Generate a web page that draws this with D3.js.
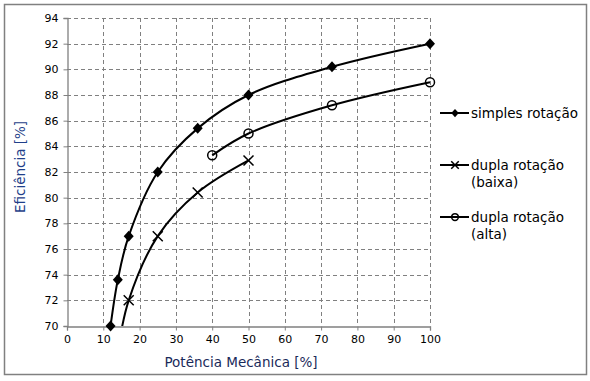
<!DOCTYPE html>
<html><head><meta charset="utf-8">
<script src="https://cdn.jsdelivr.net/npm/d3@7"></script>
<style>body{margin:0;background:#fff}svg{display:block}text{font-family:"DejaVu Sans",Verdana,sans-serif}</style>
</head><body><svg id="c" width="590" height="381"></svg>
<script>
const xTicks = [0,10,20,30,40,50,60,70,80,90,100];
const yTicks = [70,72,74,76,78,80,82,84,86,88,90,92,94];
const simplesX = [12,14,17,25,36,50,73,100];
const simplesY = [70,73.6,77,82,85.4,88,90.2,92];
const baixaX = [14,17,25,36,50];
const baixaY = [68,72,77,80.4,82.9];
const altaX = [40,50,73,100];
const altaY = [83.3,85,87.2,89];
const seriesNames = ["simples rotação", ["dupla rotação","(baixa)"], ["dupla rotação","(alta)"]];

const svg = d3.select("#c");
svg.append("rect").attr("x",4.5).attr("y",4.5).attr("width",582).attr("height",370)
  .attr("fill","#fff").attr("stroke","#808080").attr("stroke-width",1.5);

const x = d3.scaleLinear().domain([0,100]).range([67,430]);
const y = d3.scaleLinear().domain([70,94]).range([326,18]);

const grid = svg.append("g").attr("stroke","#808080").attr("stroke-dasharray","4,3").attr("stroke-width",1);
xTicks.filter(d=>d>0).forEach(d=>grid.append("line").attr("x1",Math.round(x(d))+0.5).attr("x2",Math.round(x(d))+0.5).attr("y1",y(94)).attr("y2",y(70)));
yTicks.filter(d=>d>70).forEach(d=>grid.append("line").attr("y1",Math.round(y(d))+0.5).attr("y2",Math.round(y(d))+0.5).attr("x1",x(0)).attr("x2",x(100)));

const xAxis = svg.append("g").attr("transform",`translate(0,${Math.round(y(70))+0.5})`)
  .call(d3.axisBottom(x).tickValues(xTicks).tickSize(4).tickPadding(5));
const yAxis = svg.append("g").attr("transform",`translate(${Math.round(x(0))+0.5},0)`)
  .call(d3.axisLeft(y).tickValues(yTicks).tickSize(4).tickPadding(5));
[xAxis,yAxis].forEach(a=>{
  a.selectAll("path,line").attr("stroke","#808080");
  a.select(".domain").attr("stroke-width",1.3);
  a.selectAll("text").attr("font-size",11).attr("fill","#000").style("font-family",'"DejaVu Sans",Verdana,sans-serif');
});

svg.append("text").attr("x",241).attr("y",367).attr("text-anchor","middle").attr("font-size",13.5)
  .attr("fill","#1a2a5a").text("Potência Mecânica [%]");
svg.append("text").attr("transform",`translate(25,167) rotate(-90)`).attr("text-anchor","middle").attr("font-size",13.5)
  .attr("fill","#1f3f8a").text("Eficiência [%]");

svg.append("clipPath").attr("id","pc").append("rect").attr("x",x(0)).attr("y",y(94)-2).attr("width",x(100)-x(0)+3).attr("height",y(70)-y(94)+2);

const line = d3.line().x(d=>x(d[0])).y(d=>y(d[1])).curve(d3.curveCatmullRom.alpha(0.5));
const series = [
  {xs:simplesX, ys:simplesY, m:"diamond"},
  {xs:baixaX, ys:baixaY, m:"x"},
  {xs:altaX, ys:altaY, m:"circle"}
];
function marker(g, type, cx, cy, k){
  k = k || 1;
  if(type==="diamond") g.append("path").attr("d",`M${cx},${cy-5.5*k}L${cx+5*k},${cy}L${cx},${cy+5.5*k}L${cx-5*k},${cy}Z`).attr("fill","#000");
  else if(type==="x") g.append("path").attr("d",`M${cx-5*k},${cy-5*k}L${cx+5*k},${cy+5*k}M${cx-5*k},${cy+5*k}L${cx+5*k},${cy-5*k}`).attr("stroke","#000").attr("stroke-width",1.5).attr("fill","none");
  else g.append("circle").attr("cx",cx).attr("cy",cy).attr("r",4.5*k).attr("fill","none").attr("stroke","#000").attr("stroke-width",1.5);
}
series.forEach(s=>{
  const pts = s.xs.map((v,i)=>[v,s.ys[i]]);
  svg.append("path").datum(pts).attr("d",line).attr("fill","none").attr("stroke","#000").attr("stroke-width",2).attr("clip-path","url(#pc)");
  const g = svg.append("g");
  pts.filter(p=>p[1]>=70).forEach(p=>marker(g,s.m,x(p[0]),y(p[1])));
});

const legY = [113,165,217];
series.forEach((s,i)=>{
  const g = svg.append("g");
  g.append("line").attr("x1",440).attr("x2",469).attr("y1",legY[i]).attr("y2",legY[i]).attr("stroke","#000").attr("stroke-width",2);
  marker(g,s.m,455,legY[i],0.75);
  const nm = Array.isArray(seriesNames[i]) ? seriesNames[i] : [seriesNames[i]];
  nm.forEach((t,j)=>g.append("text").attr("x",471).attr("y",legY[i]+5+j*17).attr("font-size",13.5).attr("fill","#000").text(t));
});
</script></body></html>
